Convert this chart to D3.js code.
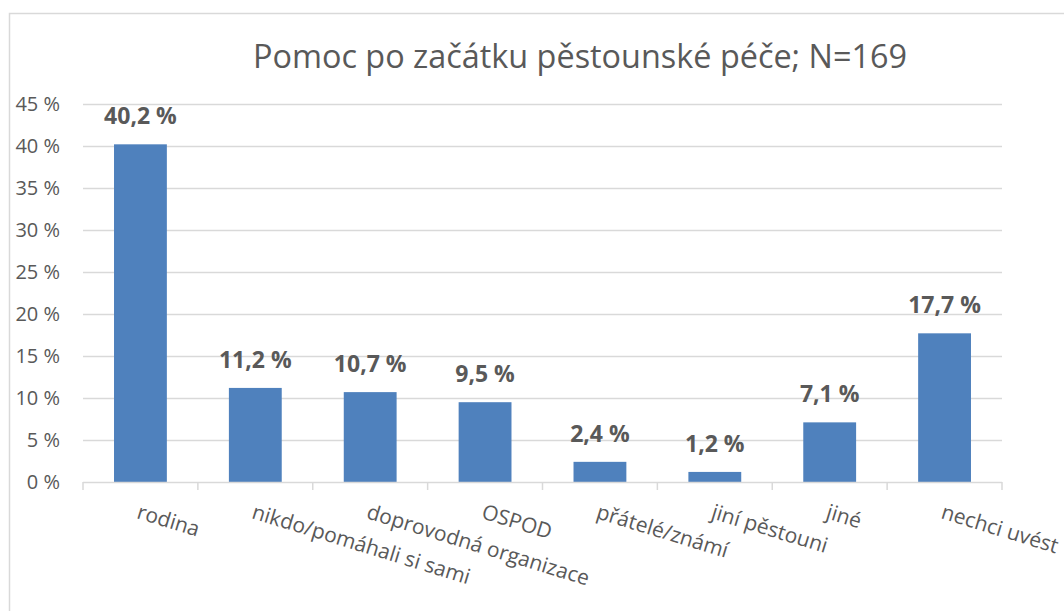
<!DOCTYPE html>
<html>
<head>
<meta charset="utf-8">
<script src="https://cdn.jsdelivr.net/npm/d3@7/dist/d3.min.js"></script>
<style>
  html, body { margin: 0; padding: 0; background: #ffffff; }
  svg { display: block; }
  text { font-family: "Open Sans", "Noto Sans", sans-serif; }
</style>
</head>
<body>
<svg id="chart" width="1064" height="611"></svg>
<script>
// ---- data ----
const categories = ["rodina", "nikdo/pomáhali si sami", "doprovodná organizace", "OSPOD",
                    "přátelé/známí", "jiní pěstouni", "jiné", "nechci uvést"];
const values = [40.2, 11.2, 10.7, 9.5, 2.4, 1.2, 7.1, 17.7];
const yTicks = [0, 5, 10, 15, 20, 25, 30, 35, 40, 45];
const titleText = "Pomoc po začátku pěstounské péče; N=169";

// ---- layout ----
const svg = d3.select("#chart");
const plot = { left: 83, right: 1002, top: 104, bottom: 482 };
const textColor = "#595959";
const gridColor = "#d9d9d9";
const barColor = "#4f81bd";

// chart frame
svg.append("rect")
  .attr("x", 9.5).attr("y", 13.5)
  .attr("width", 1200).attr("height", 700)
  .attr("fill", "none")
  .attr("stroke", gridColor)
  .attr("stroke-width", 1.5);

const x = d3.scaleBand()
  .domain(categories)
  .range([plot.left, plot.right])
  .paddingInner(0.54)
  .paddingOuter(0.27);

const y = d3.scaleLinear()
  .domain([0, 45])
  .range([plot.bottom, plot.top]);

// title
svg.append("text")
  .attr("x", 580).attr("y", 68)
  .attr("text-anchor", "middle")
  .attr("fill", textColor)
  .attr("font-size", 32.4)
  .text(titleText);

// gridlines
svg.append("g")
  .selectAll("line")
  .data(yTicks.filter(t => t > 0))
  .join("line")
  .attr("x1", plot.left).attr("x2", plot.right)
  .attr("y1", d => Math.round(y(d)) + 0.5)
  .attr("y2", d => Math.round(y(d)) + 0.5)
  .attr("stroke", gridColor)
  .attr("stroke-width", 1.5);

// y axis labels
const yAxis = d3.axisLeft(y)
  .tickValues(yTicks)
  .tickSize(0)
  .tickPadding(0)
  .tickFormat(d => d + " %");
const yg = svg.append("g")
  .attr("transform", `translate(60,0)`)
  .call(yAxis);
yg.select(".domain").remove();
yg.selectAll("text")
  .attr("fill", textColor)
  .attr("font-size", 20)
  .attr("font-family", "Open Sans, sans-serif");

// bars
svg.append("g")
  .selectAll("rect")
  .data(values)
  .join("rect")
  .attr("x", (d, i) => x(categories[i]))
  .attr("y", d => y(d))
  .attr("width", x.bandwidth())
  .attr("height", d => y(0) - y(d))
  .attr("fill", barColor);

// x axis line & ticks
const step = x.step();
const boundaries = d3.range(categories.length + 1).map(i => plot.left + i * step);
const xg = svg.append("g");
xg.append("line")
  .attr("x1", plot.left).attr("x2", plot.right)
  .attr("y1", plot.bottom + 0.5).attr("y2", plot.bottom + 0.5)
  .attr("stroke", gridColor).attr("stroke-width", 1.5);
xg.selectAll("line.tick")
  .data(boundaries)
  .join("line")
  .attr("class", "tick")
  .attr("x1", d => d).attr("x2", d => d)
  .attr("y1", plot.bottom).attr("y2", plot.bottom + 8)
  .attr("stroke", gridColor).attr("stroke-width", 1.5);

// category labels (rotated)
svg.append("g")
  .selectAll("text")
  .data(categories)
  .join("text")
  .attr("transform", d => `translate(${x(d) + x.bandwidth() / 2},503) rotate(17)`)
  .attr("dy", "0.75em")
  .attr("text-anchor", "start")
  .attr("fill", textColor)
  .attr("font-size", 21)
  .text(d => d);

// value labels
svg.append("g")
  .selectAll("text")
  .data(values)
  .join("text")
  .attr("x", (d, i) => x(categories[i]) + x.bandwidth() / 2)
  .attr("y", d => y(d) - 20)
  .attr("text-anchor", "middle")
  .attr("fill", textColor)
  .attr("font-size", 23)
  .attr("font-weight", "bold")
  .text(d => d.toFixed(1).replace(".", ",") + " %");
</script>
</body>
</html>
